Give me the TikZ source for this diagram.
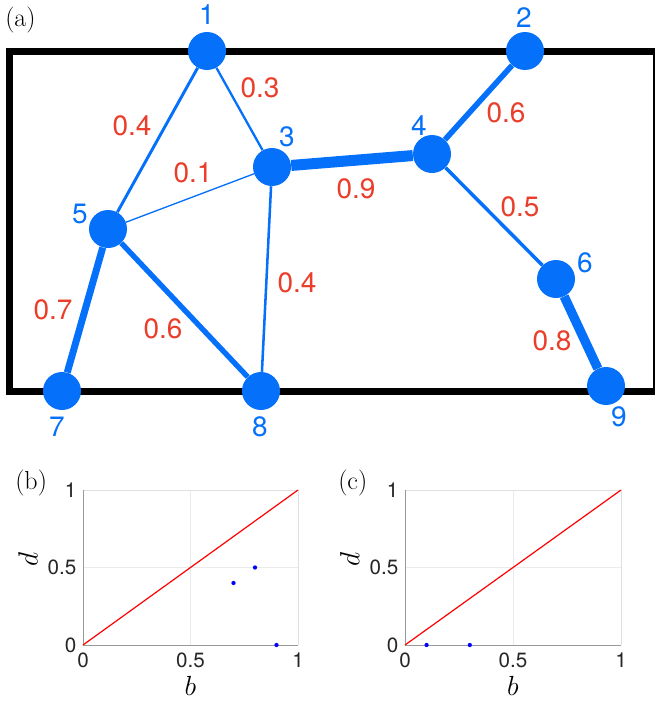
\documentclass[tikz,border=0pt]{standalone}
\usepackage{fontspec}
\setsansfont{TeX Gyre Heros}
\definecolor{netblue}{RGB}{5,112,250}
\definecolor{wred}{RGB}{234,62,42}
\tikzset{%
  vtx/.style={circle, fill=netblue, inner sep=0pt, minimum size=28.5pt},
  vlab/.style={text=netblue, inner sep=0pt, font=\sffamily\fontsize{21}{21}\selectfont},
  wlab/.style={text=wred, inner sep=0pt, font=\sffamily\fontsize{21}{21}\selectfont},
  wt/.style={draw=netblue, line width=#1},
  tick/.style={inner sep=0pt, text=black!85, font=\sffamily\fontsize{15.5}{15.5}\selectfont},
  axlab/.style={inner sep=0pt, font=\fontsize{22}{22}\selectfont},
  bdpt/.style={circle, fill=blue, inner sep=0pt, minimum size=3.2pt},
  panel/.style={inner sep=0pt, anchor=base west, font=\fontsize{19.5}{19.5}\selectfont},
}

\begin{document}
\begin{tikzpicture}[x=0.75pt, y=-0.75pt]
    \useasboundingbox (0,0) rectangle (654,703);

    %frame
    \draw[line width=5.25pt] (9.5,51) rectangle (656,391.5);

    %vertices
    \node[vtx] (v1) at (207,51) {};
    \node[vtx] (v2) at (525,51) {};
    \node[vtx] (v3) at (272,167) {};
    \node[vtx] (v4) at (432,154) {};
    \node[vtx] (v5) at (108,229) {};
    \node[vtx] (v6) at (556,279) {};
    \node[vtx] (v7) at (62,391) {};
    \node[vtx] (v8) at (261,391) {};
    \node[vtx] (v9) at (606,386) {};

    \node[vlab] (l1) at (207,15) {1};
    \node[vlab] (l2) at (524,17.5) {2};
    \node[vlab] (l3) at (287,137) {3};
    \node[vlab] (l4) at (419,126) {4};
    \node[vlab] (l5) at (80,214) {5};
    \node[vlab] (l6) at (585,263) {6};
    \node[vlab] (l7) at (57,427) {7};
    \node[vlab] (l8) at (260,427) {8};
    \node[vlab] (l9) at (619,417) {9};

    %edges, width ~ weight
    \draw[wt=1pt] (v3) -- (v5);
    \draw[wt=1.7pt] (v1) -- (v3);
    \draw[wt=2.2pt] (v1) -- (v5);
    \draw[wt=1.9pt] (v3) -- (v8);
    \draw[wt=2.6pt] (v4) -- (v6);
    \draw[wt=4.2pt] (v4) -- (v2);
    \draw[wt=4pt] (v5) -- (v8);
    \draw[wt=5.25pt] (v5) -- (v7);
    \draw[wt=7pt] (v6) -- (v9);
    \draw[wt=8.25pt] (v3) -- (v4);

    \node[wlab] (w15) at (132,126) {0.4};
    \node[wlab] (w13) at (260,88) {0.3};
    \node[wlab] (w35) at (193,173) {0.1};
    \node[wlab] (w34) at (356,189) {0.9};
    \node[wlab] (w24) at (506,113) {0.6};
    \node[wlab] (w46) at (520,207) {0.5};
    \node[wlab] (w57) at (53,310) {0.7};
    \node[wlab] (w58) at (163,329) {0.6};
    \node[wlab] (w38) at (297,283) {0.4};
    \node[wlab] (w69) at (552,341) {0.8};

    \node[panel] (pa) at (5,26.5) {(a)};
    \node[panel] (pb) at (15,489) {(b)};
    \node[panel] (pc) at (338,489) {(c)};

    % diagram (b)
    \begin{scope}[shift={(83,645)}, xscale=215, yscale=-155]
        \draw[black!8] (0.5,0) -- (0.5,1) (0,0.5) -- (1,0.5);
        \draw[black!12] (0,1) -- (1,1) -- (1,0);
        \draw[black!40] (0,1) -- (0,0) -- (1,0);
        \draw[red, line width=0.9pt] (0,0) -- (1,1);
        \node[bdpt] (b1) at (0.7,0.4) {};
        \node[bdpt] (b2) at (0.8,0.5) {};
        \node[bdpt] (b3) at (0.9,0) {};
        \foreach \t in {0,0.5,1} {
            \node[tick] at (\t,-0.1) {\t};
            \node[tick, anchor=east] at (-0.03,\t) {\t};
        }
        \node[axlab] (bx) at (0.5,-0.265) {$b$};
        \node[axlab, rotate=90] (by) at (-0.256,0.55) {$d$};
    \end{scope}

    % diagram (c)
    \begin{scope}[shift={(405,645)}, xscale=216, yscale=-155]
        \draw[black!8] (0.5,0) -- (0.5,1) (0,0.5) -- (1,0.5);
        \draw[black!12] (0,1) -- (1,1) -- (1,0);
        \draw[black!40] (0,1) -- (0,0) -- (1,0);
        \draw[red, line width=0.9pt] (0,0) -- (1,1);
        \node[bdpt] (c1) at (0.1,0) {};
        \node[bdpt] (c2) at (0.3,0) {};
        \foreach \t in {0,0.5,1} {
            \node[tick] at (\t,-0.1) {\t};
            \node[tick, anchor=east] at (-0.03,\t) {\t};
        }
        \node[axlab] (cx) at (0.5,-0.265) {$b$};
        \node[axlab, rotate=90] (cy) at (-0.256,0.55) {$d$};
    \end{scope}
\end{tikzpicture}
\end{document}
